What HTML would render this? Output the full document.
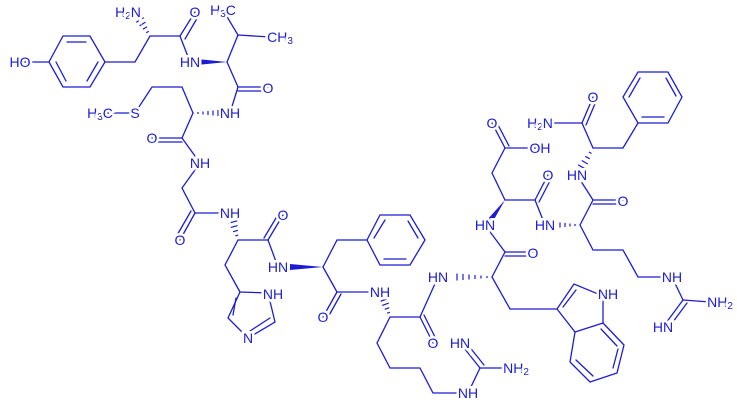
<!DOCTYPE html>
<html><head><meta charset="utf-8"><style>
html,body{margin:0;padding:0;background:#fff;}
svg{display:block}
text{font-family:"Liberation Sans",sans-serif;font-size:14px;fill:#1c1cd6;stroke:#fff;stroke-width:5px;paint-order:stroke;dominant-baseline:central;text-anchor:middle}
tspan.s{font-size:10px}
</style></head><body>
<svg width="737" height="402" viewBox="0 0 737 402" xmlns="http://www.w3.org/2000/svg">
<g stroke="#1c1cd6" stroke-width="1.3" fill="none" stroke-linecap="round">
<polyline points="63,36 90,36 105,62 90,87 63,87 49,62 63,36"/>
<line x1="67" y1="42" x2="86" y2="42"/><line x1="98" y1="62" x2="87" y2="81"/><line x1="56" y1="62" x2="66" y2="81"/>
<line x1="20" y1="62" x2="49" y2="62"/>
<polyline points="105,62 135,62 150,36 180,36"/>
<line x1="180" y1="36" x2="195" y2="12"/><line x1="185" y1="39" x2="199" y2="15"/>
<line x1="180" y1="36" x2="190" y2="62"/>
<polyline points="227,62 238,35 223,10"/><line x1="238" y1="35" x2="270" y2="37"/>
<line x1="227" y1="62" x2="238" y2="87"/>
<line x1="238" y1="87" x2="268" y2="87"/><line x1="238" y1="91" x2="268" y2="91"/>
<line x1="238" y1="87" x2="230" y2="113"/>
<polyline points="193,113 182,87 152,87 135,113 95,113"/>
<line x1="193" y1="113" x2="182" y2="138"/>
<line x1="182" y1="138" x2="152" y2="138"/><line x1="182" y1="142" x2="152" y2="142"/>
<polyline points="182,138 200,163 182,188 195,213"/>
<line x1="195" y1="213" x2="180" y2="240"/><line x1="191" y1="211" x2="176" y2="237"/>
<line x1="195" y1="213" x2="230" y2="213"/>
<polyline points="238,240 225,265 240,292"/>
<line x1="238" y1="240" x2="268" y2="240"/>
<line x1="268" y1="240" x2="283" y2="215"/><line x1="264" y1="238" x2="279" y2="213"/>
<line x1="268" y1="240" x2="278" y2="267"/>
<polyline points="240,292 268,293 275,322 248,338 228,318 240,292"/>
<line x1="236" y1="298" x2="233" y2="315"/><line x1="270" y1="318" x2="250" y2="331"/>
<line x1="323" y1="267" x2="337" y2="240"/><line x1="337" y1="240" x2="367" y2="240"/>
<polyline points="367,240 380,215 410,215 425,240 410,265 380,265 367,240"/>
<line x1="374" y1="238" x2="385" y2="220"/><line x1="384" y1="259" x2="406" y2="259"/><line x1="408" y1="221" x2="418" y2="238"/>
<line x1="323" y1="267" x2="337" y2="292"/>
<line x1="337" y1="292" x2="323" y2="317"/><line x1="341" y1="294" x2="327" y2="319"/>
<line x1="337" y1="292" x2="380" y2="292"/>
<line x1="390" y1="317" x2="420" y2="317"/>
<line x1="420" y1="317" x2="433" y2="343"/><line x1="424" y1="315" x2="437" y2="341"/>
<line x1="420" y1="317" x2="438" y2="277"/>
<polyline points="390,317 377,343 390,368 420,368 433,393 468,393"/>
<line x1="468" y1="393" x2="480" y2="368"/>
<line x1="480" y1="368" x2="460" y2="343"/><line x1="484" y1="365" x2="464" y2="340"/>
<line x1="480" y1="368" x2="510" y2="368"/>
<line x1="492" y1="277" x2="505" y2="252"/>
<line x1="505" y1="252" x2="533" y2="252"/><line x1="505" y1="256" x2="533" y2="256"/>
<line x1="505" y1="252" x2="485" y2="225"/>
<polyline points="492,277 510,309 557,309"/>
<polyline points="557,309 574,284 603,296 603,323 575,332 557,309"/>
<line x1="563" y1="307" x2="576" y2="290"/>
<polyline points="575,332 570,362 590,382 617,373 624,345 603,323"/>
<line x1="576" y1="360" x2="593" y2="376"/><line x1="618" y1="349" x2="613" y2="368"/><line x1="601" y1="329" x2="617" y2="346"/>
<polyline points="505,200 492,173 505,148 538,148"/>
<line x1="505" y1="148" x2="492" y2="123"/><line x1="509" y1="146" x2="496" y2="121"/>
<line x1="505" y1="200" x2="535" y2="200"/>
<line x1="535" y1="200" x2="548" y2="175"/><line x1="539" y1="202" x2="552" y2="177"/>
<line x1="535" y1="200" x2="545" y2="225"/>
<line x1="580" y1="225" x2="593" y2="200"/>
<line x1="593" y1="200" x2="623" y2="200"/><line x1="593" y1="204" x2="623" y2="204"/>
<line x1="593" y1="200" x2="577" y2="175"/>
<polyline points="580,225 593,250 623,250 638,277 672,277"/>
<line x1="672" y1="277" x2="683" y2="300"/>
<line x1="683" y1="300" x2="710" y2="302"/>
<line x1="683" y1="300" x2="663" y2="327"/><line x1="687" y1="303" x2="667" y2="330"/>
<line x1="593" y1="148" x2="582" y2="123"/>
<line x1="582" y1="123" x2="540" y2="123"/>
<line x1="582" y1="123" x2="593" y2="97"/><line x1="586" y1="125" x2="597" y2="99"/>
<line x1="593" y1="148" x2="623" y2="148"/><line x1="623" y1="148" x2="638" y2="123"/>
<polyline points="638,123 623,97 638,72 668,72 682,97 668,123 638,123"/>
<line x1="629" y1="97" x2="640" y2="78"/><line x1="642" y1="117" x2="664" y2="117"/><line x1="666" y1="78" x2="676" y2="96"/>
</g>
<g fill="#1c1cd6">
<polygon points="227,62 197,59 197,65"/>
<polygon points="323,267 290,264 290,270"/>
<polygon points="505,200 487,220 492,223"/>
</g>
<g stroke="#1c1cd6" stroke-width="1.2">
<path d="M146.2,32.8L148.8,31.2M142.9,29.3L147.1,26.7M139.5,25.9L145.5,22.1M136.2,22.4L143.8,17.6"/>
<path d="M198,112V114M203,111.5V114.5M208,111V115M213,110.5V115.5M218,110V116"/>
<path d="M235.3,235.9L238.2,235.1M233.1,231.7L237.9,230.3M230.9,227.4L237.6,225.6M228.7,223.2L237.3,220.8"/>
<path d="M387.1,313.2L389.9,312.3M384.7,309.3L389.3,307.7M382.2,305.4L388.8,303.1M379.8,301.5L388.2,298.5"/>
<path d="M487,276V278M481,275.5V278.5M475,275V279M469,274.5V279.5M463,274V280M457,273.5V280.5"/>
<path d="M575,224V226M570,223.5V226.5M565,223V227M560,222.5V227.5"/>
<path d="M589,152L591.5,153.5M585.3,156.3L589.7,158.8M581.7,160.5L587.8,164M578.1,164.8L585.9,169.3"/>
</g>
<text x="20" y="62">HO</text>
<text x="128" y="12">H<tspan class="s" dy="4">2</tspan><tspan dy="-4">N</tspan></text>
<text x="195" y="12">O</text>
<text x="190" y="62">HN</text>
<text x="223" y="10">H<tspan class="s" dy="4">3</tspan><tspan dy="-4">C</tspan></text>
<text x="280" y="37">CH<tspan class="s" dy="4">3</tspan></text>
<text x="268" y="88">O</text>
<text x="230" y="113">NH</text>
<text x="135" y="113">S</text>
<text x="100" y="113">H<tspan class="s" dy="4">3</tspan><tspan dy="-4">C</tspan></text>
<text x="152" y="138">O</text>
<text x="200" y="163">NH</text>
<text x="180" y="240">O</text>
<text x="230" y="213">NH</text>
<text x="283" y="215">O</text>
<text x="278" y="267">HN</text>
<text x="273" y="294">NH</text>
<text x="248" y="338">N</text>
<text x="323" y="317">O</text>
<text x="380" y="292">NH</text>
<text x="433" y="343">O</text>
<text x="438" y="277">HN</text>
<text x="460" y="343">HN</text>
<text x="516" y="368">NH<tspan class="s" dy="4">2</tspan></text>
<text x="468" y="393">NH</text>
<text x="533" y="253">O</text>
<text x="485" y="225">HN</text>
<text x="492" y="123">O</text>
<text x="540" y="148">OH</text>
<text x="548" y="175">O</text>
<text x="545" y="225">HN</text>
<text x="623" y="201">O</text>
<text x="577" y="175">HN</text>
<text x="593" y="97">O</text>
<text x="540" y="123">H<tspan class="s" dy="4">2</tspan><tspan dy="-4">N</tspan></text>
<text x="608" y="294">NH</text>
<text x="672" y="277">NH</text>
<text x="720" y="302">NH<tspan class="s" dy="4">2</tspan></text>
<text x="663" y="327">HN</text>
</svg>
</body></html>
